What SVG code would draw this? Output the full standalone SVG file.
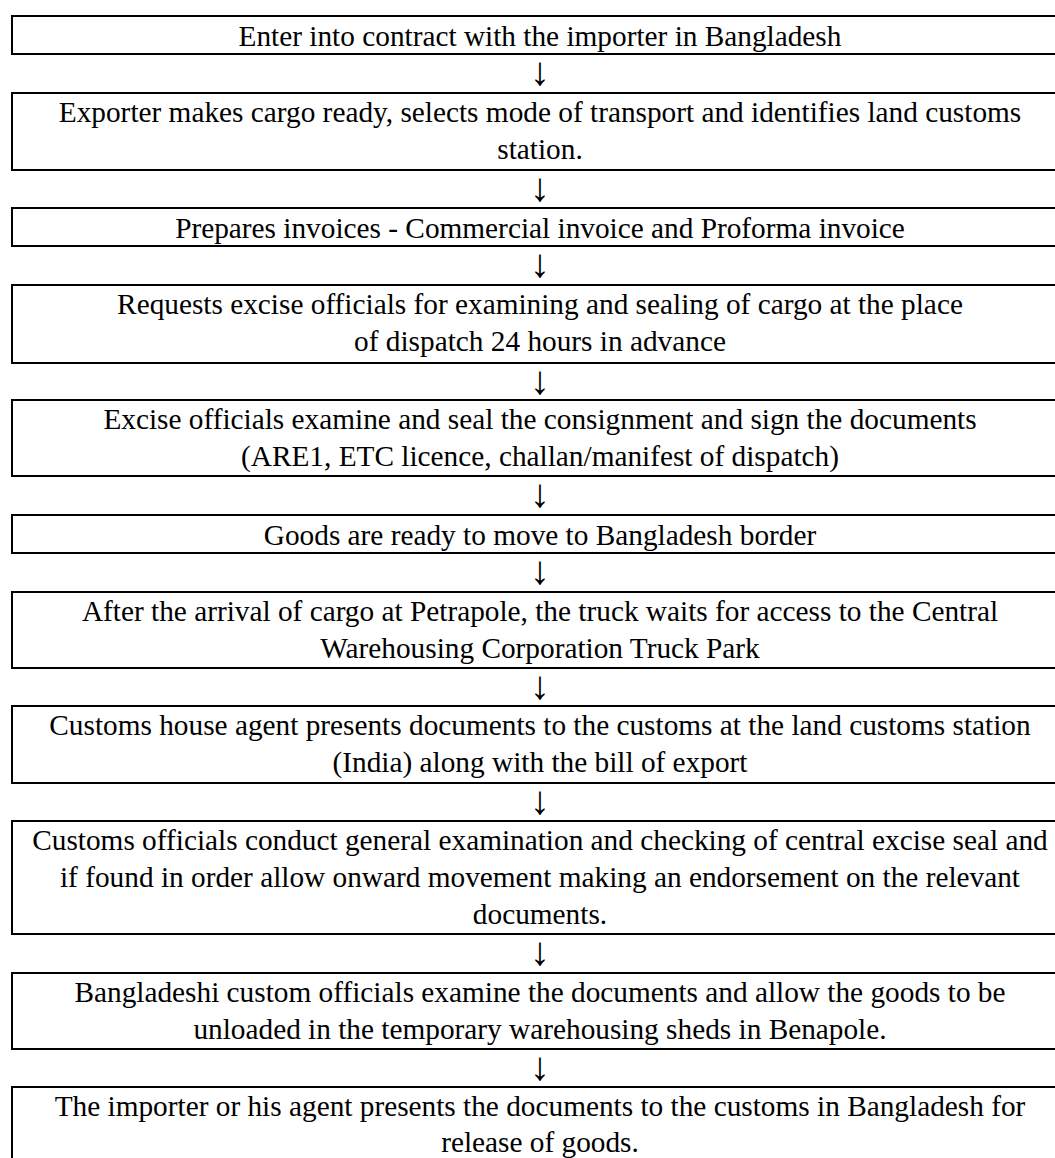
<svg xmlns="http://www.w3.org/2000/svg" width="1055" height="1158" viewBox="0 0 1055 1158">
<style>
.box{fill:#fff;stroke:#000;stroke-width:2}
.t{font-family:"Liberation Serif","Times New Roman",serif;font-size:29.3px;fill:#000;text-anchor:middle}
.a{font-family:"Liberation Serif","Times New Roman",serif;font-size:40px;fill:#000;text-anchor:middle}
</style>
<rect x="0" y="0" width="1055" height="1158" fill="#fff"/>
<g id="connectors">
<text class="a" x="540" y="85">↓</text>
<text class="a" x="540" y="201">↓</text>
<text class="a" x="540" y="277">↓</text>
<text class="a" x="540" y="394">↓</text>
<text class="a" x="540" y="507">↓</text>
<text class="a" x="540" y="584">↓</text>
<text class="a" x="540" y="699">↓</text>
<text class="a" x="540" y="814">↓</text>
<text class="a" x="540" y="965">↓</text>
<text class="a" x="540" y="1080">↓</text>
</g>
<g id="n1"><rect class="box" x="12" y="16" width="1100" height="38"/><text class="t" x="540" y="46">Enter into contract with the importer in Bangladesh</text></g>
<g id="n2"><rect class="box" x="12" y="93" width="1100" height="77"/><text class="t" x="540" y="122">Exporter makes cargo ready, selects mode of transport and identifies land customs</text><text class="t" x="540" y="159">station.</text></g>
<g id="n3"><rect class="box" x="12" y="208" width="1100" height="38"/><text class="t" x="540" y="238">Prepares invoices - Commercial invoice and Proforma invoice</text></g>
<g id="n4"><rect class="box" x="12" y="285" width="1100" height="78"/><text class="t" x="540" y="314">Requests excise officials for examining and sealing of cargo at the place</text><text class="t" x="540" y="351">of dispatch 24 hours in advance</text></g>
<g id="n5"><rect class="box" x="12" y="400" width="1100" height="76"/><text class="t" x="540" y="429">Excise officials examine and seal the consignment and sign the documents</text><text class="t" x="540" y="466">(ARE1, ETC licence, challan/manifest of dispatch)</text></g>
<g id="n6"><rect class="box" x="12" y="515" width="1100" height="38"/><text class="t" x="540" y="545">Goods are ready to move to Bangladesh border</text></g>
<g id="n7"><rect class="box" x="12" y="592" width="1100" height="76"/><text class="t" x="540" y="621">After the arrival of cargo at Petrapole, the truck waits for access to the Central</text><text class="t" x="540" y="658">Warehousing Corporation Truck Park</text></g>
<g id="n8"><rect class="box" x="12" y="706" width="1100" height="77"/><text class="t" x="540" y="735">Customs house agent presents documents to the customs at the land customs station</text><text class="t" x="540" y="772">(India) along with the bill of export</text></g>
<g id="n9"><rect class="box" x="12" y="821" width="1100" height="113"/><text class="t" x="540" y="850">Customs officials conduct general examination and checking of central excise seal and</text><text class="t" x="540" y="887">if found in order allow onward movement making an endorsement on the relevant</text><text class="t" x="540" y="924">documents.</text></g>
<g id="n10"><rect class="box" x="12" y="973" width="1100" height="76"/><text class="t" x="540" y="1002">Bangladeshi custom officials examine the documents and allow the goods to be</text><text class="t" x="540" y="1039">unloaded in the temporary warehousing sheds in Benapole.</text></g>
<g id="n11"><rect class="box" x="12" y="1087" width="1100" height="120"/><text class="t" x="540" y="1116">The importer or his agent presents the documents to the customs in Bangladesh for</text><text class="t" x="540" y="1152">release of goods.</text></g>
</svg>
